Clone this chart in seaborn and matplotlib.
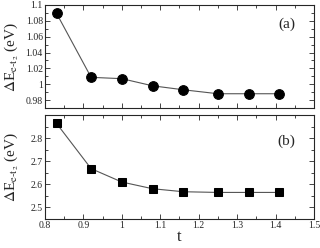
import numpy as np
import pandas as pd
import matplotlib
matplotlib.use("Agg")
import matplotlib.pyplot as plt
import seaborn as sns
from matplotlib.ticker import MultipleLocator

t_vals = [0.83, 0.92, 1.00, 1.08, 1.16, 1.25, 1.33, 1.41]
gap_a = [1.0895, 1.0087, 1.007, 0.998, 0.993, 0.988, 0.988, 0.988]
gap_b = [2.864, 2.668, 2.610, 2.581, 2.568, 2.565, 2.565, 2.565]

sns.set_style("ticks")
plt.rcParams['font.family'] = ['Liberation Serif', 'DejaVu Serif']
plt.rcParams['mathtext.fontset'] = 'stix'

fig = plt.figure(figsize=(3.2, 2.48), dpi=100)
ax1 = fig.add_axes([0.1406, 0.5645, 0.8406, 0.4155])
ax2 = fig.add_axes([0.1406, 0.117, 0.8406, 0.419])

df_a = pd.DataFrame({'t': t_vals, 'E': gap_a})
df_b = pd.DataFrame({'t': t_vals, 'E': gap_b})

sns.lineplot(data=df_a, x='t', y='E', ax=ax1, color='#555555', lw=0.8,
             marker='o', markersize=7, markerfacecolor='black', markeredgecolor='black')
sns.lineplot(data=df_b, x='t', y='E', ax=ax2, color='#555555', lw=0.8,
             marker='s', markersize=6, markerfacecolor='black', markeredgecolor='black')

for ax in (ax1, ax2):
    ax.set_xlim(0.8, 1.5)
    ax.xaxis.set_major_locator(MultipleLocator(0.1))
    ax.xaxis.set_minor_locator(MultipleLocator(0.05))
    ax.tick_params(which='both', direction='in', top=True, right=True, labelsize=7,
                   width=0.6, pad=1.5)
    ax.tick_params(which='major', length=3.5)
    ax.tick_params(which='minor', length=2)
    for s in ax.spines.values():
        s.set_linewidth(0.8)
    ax.set_ylabel(r'$\Delta$E$_{\mathrm{e}\text{-}\mathrm{t}_2}$ (eV)', fontsize=11)
    ax.yaxis.set_label_coords(-0.09, 0.5)

ax1.set_ylim(0.97, 1.1)
ax1.set_yticks([0.98, 1.0, 1.02, 1.04, 1.06, 1.08, 1.1])
ax1.set_yticklabels(['0.98', '1', '1.02', '1.04', '1.06', '1.08', '1.1'])
ax1.yaxis.set_minor_locator(MultipleLocator(0.01))
ax1.set_xticklabels([])
ax1.set_xlabel('')
ax1.text(0.93, 0.78, '(a)', transform=ax1.transAxes, ha='right', fontsize=11)

ax2.set_ylim(2.45, 2.9)
ax2.set_yticks([2.5, 2.6, 2.7, 2.8])
ax2.yaxis.set_minor_locator(MultipleLocator(0.05))
ax2.set_xticks([0.8, 0.9, 1.0, 1.1, 1.2, 1.3, 1.4, 1.5])
ax2.set_xticklabels(['0.8', '0.9', '1', '1.1', '1.2', '1.3', '1.4', '1.5'])
ax2.set_xlabel('t', fontsize=12, labelpad=-1)
ax2.text(0.93, 0.71, '(b)', transform=ax2.transAxes, ha='right', fontsize=11)

fig.savefig('out.png', dpi=100)
